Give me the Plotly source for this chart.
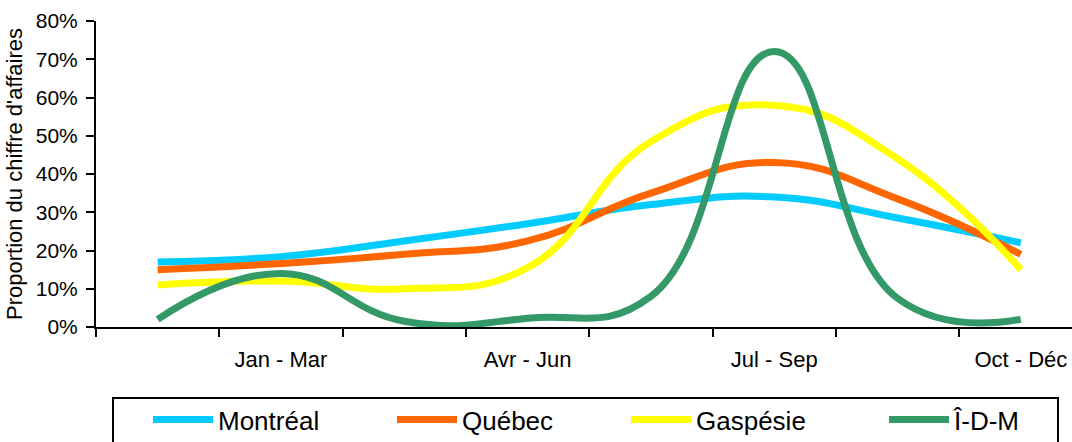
import plotly.graph_objects as go

# --- data ---
positions = [0, 1, 2, 3, 4, 5, 6, 7]
tick_labels = ["Jan - Mar", "Avr - Jun", "Jul - Sep", "Oct - Déc"]
tick_label_pos = [1, 3, 5, 7]
boundaries = [-0.5, 0.5, 1.5, 2.5, 3.5, 4.5, 5.5, 6.5]

montreal = [17, 18.4, 22.5, 27, 32, 34, 28.5, 22]
quebec = [15, 16.6, 19, 22.5, 35, 43, 33.5, 19]
gaspesie = [11, 12, 10, 15.5, 48.5, 58, 44, 15]
idm = [2, 14, 1.5, 2.3, 8, 72, 7.5, 2]

series_names = ["Montréal", "Québec", "Gaspésie", "Î-D-M"]
series_values = [montreal, quebec, gaspesie, idm]
series_colors = ["#00CCFF", "#FF6600", "#FFFF00", "#339966"]
legend_ids = ["legend", "legend2", "legend3", "legend4"]

FONT = "Liberation Sans, Arial, sans-serif"

# layout geometry (pixels)
W, H = 1072, 442
ML, MR, MT, MB = 96, 0, 21, 115
PW, PH = W - ML - MR, H - MT - MB


def px_x(p):
    return (p - ML) / PW


def px_y(p):
    return (H - MB - p) / PH


fig = go.Figure()
for name, vals, color, lg in zip(series_names, series_values, series_colors, legend_ids):
    fig.add_trace(go.Scatter(
        x=positions, y=vals, name=name, mode="lines",
        line=dict(color=color, width=7, shape="spline", smoothing=1.3),
        hoverinfo="skip", legend=lg,
    ))

legend_left_px = [148, 392, 626, 884]
legend_common = dict(
    orientation="h", yanchor="top", xanchor="left",
    y=px_y(396), borderwidth=0, bgcolor="rgba(0,0,0,0)",
    font=dict(size=26, family=FONT, color="black"),
    itemwidth=60,
)
legends = {}
for lg, lx in zip(legend_ids, legend_left_px):
    legends[lg] = dict(legend_common, x=px_x(lx))

fig.update_layout(
    width=W, height=H,
    margin=dict(l=ML, r=MR, t=MT, b=MB, autoexpand=False),
    paper_bgcolor="white", plot_bgcolor="white",
    font=dict(family=FONT, size=21, color="black"),
    showlegend=True,
    **legends,
    shapes=[dict(
        type="rect", xref="paper", yref="paper",
        x0=px_x(113), x1=px_x(1058), y0=px_y(398), y1=px_y(470),
        line=dict(color="black", width=2), fillcolor="rgba(0,0,0,0)",
    )],
)

fig.update_xaxes(
    range=[-0.5, 7.415],
    showgrid=False, zeroline=False,
    showline=True, linecolor="black", linewidth=2,
    tickmode="array", tickvals=tick_label_pos, ticktext=tick_labels,
    ticks="", ticklabelstandoff=12,
    minor=dict(tickmode="array", tickvals=boundaries, ticks="outside",
               ticklen=8, tickwidth=2, tickcolor="black", showgrid=False),
    tickfont=dict(size=22),
)
fig.update_yaxes(
    range=[0, 80], dtick=10, ticksuffix="%",
    showgrid=False, zeroline=False,
    showline=True, linecolor="black", linewidth=2,
    ticks="outside", ticklen=8, tickwidth=2, tickcolor="black",
    ticklabelstandoff=4,
    title=dict(text="Proportion du chiffre d'affaires", font=dict(size=22),
               standoff=7),
    tickfont=dict(size=21),
)

fig.write_html("out.html")
